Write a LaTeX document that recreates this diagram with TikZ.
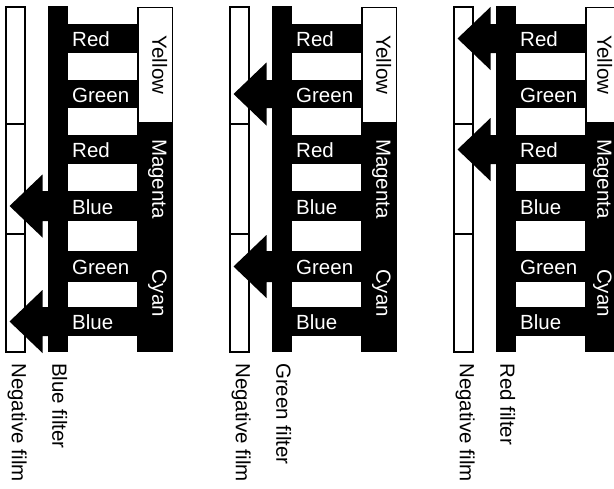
\documentclass[tikz,border=0pt]{standalone}
\usepackage{fontspec}
\setmainfont{Liberation Sans}
\begin{document}
\begin{tikzpicture}[x=1pt,y=-1pt,
  txt/.style={inner sep=0pt, font=\fontsize{20.5}{24}\selectfont},
  bandtext/.style={txt, anchor=west, text=white},
  layertext/.style={txt, rotate=-90, text height=0.72em, text depth=0pt},
  caption/.style={txt, rotate=-90, anchor=west, text height=0.72em, text depth=0pt},
  filmbox/.style={draw=black, line width=1.3pt, fill=white},
  yellowbox/.style={draw=black, line width=1.3pt, fill=white},
  blackpart/.style={fill=black}]
\useasboundingbox (0,0) rectangle (614,488);
\foreach \p/\dx/\lx/\filt/\ta/\ba/\tb/\bb in {1/0/156/Blue/191/221/307/336, 2/224/156/Green/80/108/251/282, 3/448/153/Red/24/53/135/164}{
\begin{scope}[xshift=\dx pt]
  % negative film
  \draw[filmbox] (6,7) rectangle (25,352);
  \draw[line width=1.3pt] (6,124) -- (25,124) (6,234) -- (25,234);
  % filter column and layer structure
  \fill[blackpart] (48,5.5) rectangle (68,352);
  \foreach \t/\b in {24/53, 80/108, 135/164, 191/221, 251/282, 307/336}
    \fill[blackpart] (67.5,\t) rectangle (138,\b);
  \fill[blackpart] (137,123) rectangle (173,352);
  \draw[yellowbox] (138,7.5) rectangle (172.5,123);
  % arrows
  \foreach \t/\b in {\ta/\ba, \tb/\bb}{
    \pgfmathsetmacro{\mid}{(\t+\b)/2}
    \fill[blackpart] (48.5,\t) -- (42.5,\t) -- (42.5,\mid-31.5) -- (9.5,\mid)
      -- (42.5,\mid+31.5) -- (42.5,\b) -- (48.5,\b) -- cycle;
  }
  % band labels
  \node[bandtext] (p\p-b1) at (72,39.5) {Red};
  \node[bandtext] (p\p-b2) at (72,95) {Green};
  \node[bandtext] (p\p-b3) at (72,150.5) {Red};
  \node[bandtext] (p\p-b4) at (72,207) {Blue};
  \node[bandtext] (p\p-b5) at (72,267.5) {Green};
  \node[bandtext] (p\p-b6) at (72,322.5) {Blue};
  % layer labels
  \node[layertext] (p\p-y) at (\lx,65) {Yellow};
  \node[layertext, text=white] (p\p-m) at (\lx,179) {Magenta};
  \node[layertext, text=white] (p\p-c) at (\lx,293) {Cyan};
  % captions
  \node[caption] (p\p-neg) at (15.5,363) {Negative film};
  \node[caption] (p\p-fil) at (56,363) {\filt{} filter};
\end{scope}
}
\end{tikzpicture}
\end{document}
